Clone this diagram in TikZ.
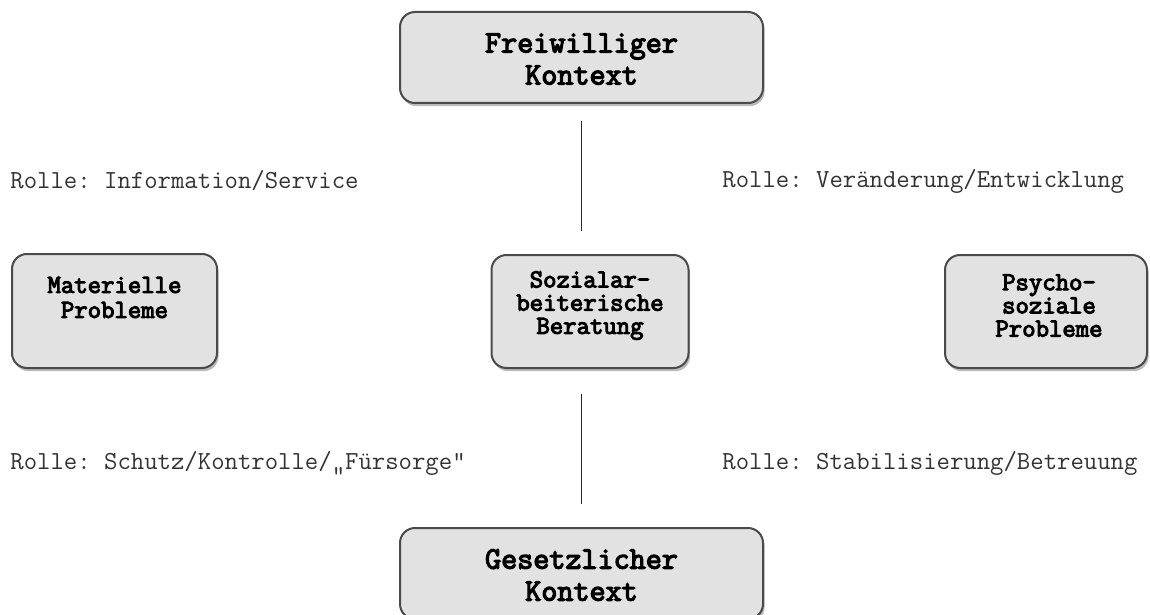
\documentclass[tikz,border=0pt]{standalone}
\usepackage{fontspec}
\newfontfamily\boldmono{Latin Modern Mono}[FakeBold=4]
\usetikzlibrary{shadows}
\definecolor{boxfill}{HTML}{E2E2E2}
\definecolor{boxline}{HTML}{4A4A4A}
\definecolor{txt}{HTML}{333333}
\frenchspacing
\begin{document}
\begin{tikzpicture}[x=0.5pt,y=-0.5pt,
  box/.style={draw=boxline, line width=1pt, fill=boxfill, rounded corners=7.5pt,
    drop shadow={shadow xshift=0.8pt, shadow yshift=-1.6pt, opacity=0.45, fill=black!60}},
  bigtxt/.style={font=\fontsize{15.6}{16}\selectfont\boldmono, align=center, text=black, inner sep=0pt},
  smalltxt/.style={font=\fontsize{13}{11.6}\selectfont\boldmono, align=center, text=black, inner sep=0pt},
  roletxt/.style={font=\fontsize{13}{13}\selectfont\ttfamily\frenchspacing, text=txt, anchor=west, inner sep=0pt},
  conn/.style={draw=black!85, line width=0.75pt}]
\useasboundingbox (0,0) rectangle (1150,615);
% boxes
\node[box, minimum width=181.5pt, minimum height=45.5pt] (top) at (581.5,57.5) {};
\node[bigtxt] (topT) at (581.5,59) {Freiwilliger\\Kontext};
\node[box, minimum width=181.5pt, minimum height=45.5pt] (bot) at (581.5,573.5) {};
\node[bigtxt] (botT) at (581.5,575) {Gesetzlicher\\Kontext};
\node[box, minimum width=102.5pt, minimum height=57pt] (mat) at (114.5,311) {};
\node[smalltxt, font=\fontsize{13}{12.5}\selectfont\boldmono] (matT) at (114.5,297.5) {Materielle\\Probleme};
\node[box, minimum width=98.5pt, minimum height=56.5pt] (cen) at (590,311.5) {};
\node[smalltxt] (cenT) at (590,305.5) {Sozialar-\\beiterische\\Beratung};
\node[box, minimum width=101pt, minimum height=56.5pt] (psy) at (1046,311.5) {};
\node[smalltxt] (psyT) at (1049,305.5) {Psycho-\\soziale\\Probleme};
% connectors
\draw[conn, shorten <=8.5pt, shorten >=11.5pt] (top.south) -- (top.south |- cen.north);
\draw[conn, shorten <=12.5pt, shorten >=11.5pt] (cen.south -| bot.north) -- (bot.north);
% role labels
\node[roletxt] (r1) at (10,181) {Rolle: Information/Service};
\node[roletxt] (r2) at (722,181) {Rolle: Veränderung/Entwicklung};
\node[roletxt] (r3) at (10,463) {Rolle: Schutz/Kontrolle/„Fürsorge“};
\node[roletxt] (r4) at (722,463) {Rolle: Stabilisierung/Betreuung};
\end{tikzpicture}
\end{document}
